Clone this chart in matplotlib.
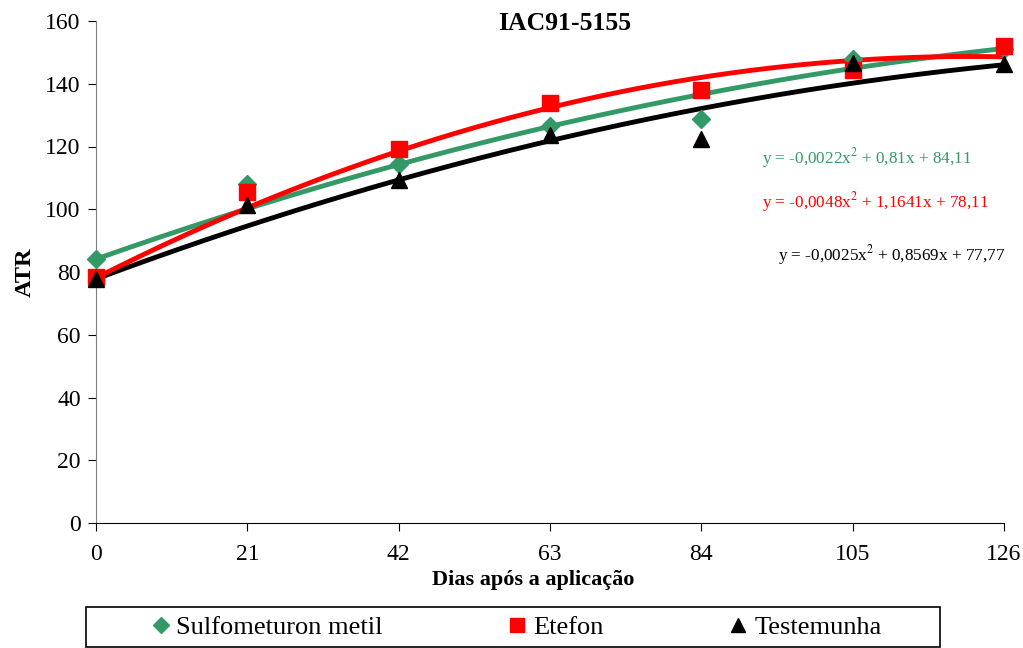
import numpy as np
import matplotlib
matplotlib.use('Agg')
import matplotlib.pyplot as plt
from matplotlib.lines import Line2D
from matplotlib.patches import Rectangle

plt.rcParams['font.family'] = 'Liberation Serif'
plt.rcParams['mathtext.fontset'] = 'stix'

# dias apos a aplicacao
dias = [0, 21, 42, 63, 84, 105, 126]

# ATR observado
sulfometuron = [84, 108, 114.3, 126.5, 128.8, 148, 151]
etefon = [78.5, 105.5, 119.2, 134, 138, 144.3, 152]
testemunha = [77.7, 101.4, 109.3, 123.6, 122.4, 146.5, 146.2]

# coeficientes das equacoes de ajuste (a, b, c)
coef_sulf = [-0.0022, 0.81, 84.11]
coef_etef = [-0.0048, 1.1641, 78.11]
coef_test = [-0.0025, 0.8569, 77.77]

verde = '#339966'
vermelho = '#ff0000'
preto = '#000000'

fig = plt.figure(figsize=(10.23, 6.48), dpi=100)
ax = fig.add_axes([96/1023, 1-523/648, 908/1023, 502/648])

xx = np.linspace(0, 126, 200)
ax.plot(xx, np.polyval(coef_sulf, xx), color=verde, lw=3.5, zorder=2)
ax.plot(xx, np.polyval(coef_etef, xx), color=vermelho, lw=3.5, zorder=2)
ax.plot(xx, np.polyval(coef_test, xx), color=preto, lw=3.5, zorder=1)

ax.plot(dias, sulfometuron, 'D', color=verde, ms=9, ls='none', zorder=3, clip_on=False)
ax.plot(dias, etefon, 's', color=vermelho, ms=11, ls='none', zorder=3, clip_on=False)
ax.plot(dias, testemunha, '^', color=preto, ms=11, ls='none', zorder=3, clip_on=False)

ax.set_xlim(0, 126)
ax.set_ylim(0, 160)
ax.set_xticks(dias)
ax.set_yticks(range(0, 161, 20))
ax.tick_params(labelsize=17, direction='out', length=6)
ax.tick_params(axis='x', pad=9)
ax.tick_params(axis='y', pad=5)
ax.spines['top'].set_visible(False)
ax.spines['right'].set_visible(False)
ax.spines['left'].set_color('#808080')
ax.spines['bottom'].set_color('black')

ax.set_xlabel('Dias após a aplicação', fontsize=16, fontweight='bold', labelpad=4)
ax.xaxis.label.set_x(0.482)
ax.set_ylabel('ATR', fontsize=17.5, fontweight='bold', labelpad=7)
ax.text(0.5165, 1.017, 'IAC91-5155', transform=ax.transAxes, ha='center', va='top',
        fontsize=18.5, fontweight='bold')

ax.text(0.734, 0.727, r'y = -0,0022x$^2$ + 0,81x + 84,11', transform=ax.transAxes,
        color=verde, fontsize=12.3, va='center')
ax.text(0.734, 0.639, r'y = -0,0048x$^2$ + 1,1641x + 78,11', transform=ax.transAxes,
        color=vermelho, fontsize=12.3, va='center')
ax.text(1.002, 0.534, r'y = -0,0025x$^2$ + 0,8569x + 77,77', transform=ax.transAxes,
        color=preto, fontsize=12.3, va='center', ha='right')

handles = [
    Line2D([], [], marker='D', color=verde, ls='none', ms=8),
    Line2D([], [], marker='s', color=vermelho, ls='none', ms=10),
    Line2D([], [], marker='^', color=preto, ls='none', ms=10),
]
leg = fig.legend(handles, ['Sulfometuron metil', 'Etefon', 'Testemunha'],
                 loc='center', ncol=3, bbox_to_anchor=(517/1023, 1-627/648),
                 fontsize=19, frameon=False, columnspacing=4.8,
                 handlelength=0.6, handletextpad=0.3, borderaxespad=0)
fig.patches.append(Rectangle((86/1023, 1-647/648), 854/1023, 40/648,
                             transform=fig.transFigure, fill=False,
                             edgecolor='black', lw=1.2))

fig.savefig('out.png', dpi=100)
